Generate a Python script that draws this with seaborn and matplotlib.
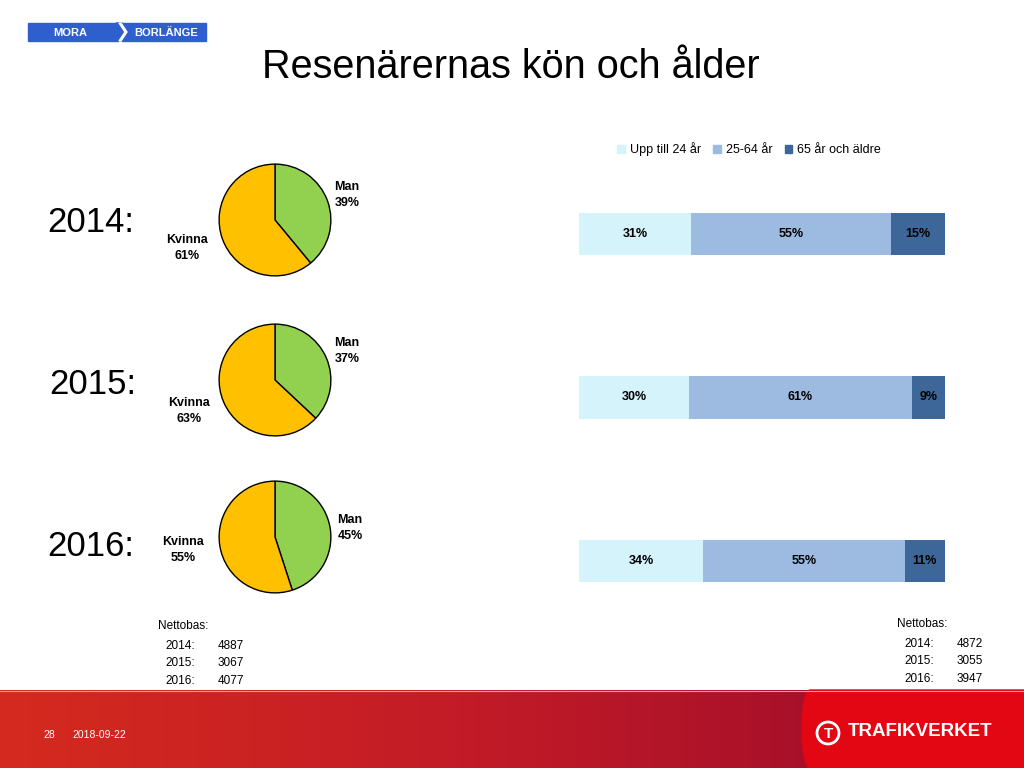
import numpy as np
import pandas as pd
import matplotlib.pyplot as plt
import matplotlib.patches as mpatches
import seaborn as sns

# data
years = ['2014', '2015', '2016']
man_pct = [39, 37, 45]
kvinna_pct = [61, 63, 55]

age_groups = ['Upp till 24 år', '25-64 år', '65 år och äldre']
age_young = [31, 30, 34]
age_mid = [55, 61, 55]
age_old = [15, 9, 11]

netto_pie = [4887, 3067, 4077]
netto_bar = [4872, 3055, 3947]

green = '#92D050'
yellow = '#FFC000'
age_colors = ['#D5F3FB', '#9DBBE0', '#3D6699']

sns.set_theme(style='white')
plt.rcParams['font.family'] = ['Liberation Sans', 'DejaVu Sans']
plt.rcParams['text.color'] = 'black'

W, H = 1024, 768
fig = plt.figure(figsize=(10.24, 7.68), dpi=100)

# background layer in pixel coords
bg = fig.add_axes([0, 0, 1, 1], zorder=-1)
bg.set_xlim(0, W)
bg.set_ylim(H, 0)
bg.axis('off')

# red footer band with gradient
xs = np.linspace(0, 1, 256)
stops = np.array([[0xD4, 0x2A, 0x1E], [0xC4, 0x1C, 0x27], [0xA8, 0x10, 0x2A]]) / 255
grad = np.empty((1, 256, 3))
for c in range(3):
    grad[0, :, c] = np.interp(xs, [0, 0.55, 1], stops[:, c])
bg.imshow(grad, extent=[0, 812, 768, 690], aspect='auto', zorder=0)
t = np.linspace(-np.pi / 2, np.pi / 2, 50)
arc_x = 810 - 8 * np.cos(t)
arc_y = 729 + 39 * np.sin(t)
poly = np.vstack([np.column_stack([arc_x, arc_y]), [[W, 768], [W, 690]]])
bg.add_patch(mpatches.Polygon(poly, closed=True, color='#E30613', zorder=1))
bg.plot([0, W], [690.5, 690.5], color='#E8A0A0', lw=0.8, zorder=2)
bg.text(43, 735, '28', color='white', fontsize=7.5, va='center')
bg.text(72, 735, '2018-09-22', color='white', fontsize=7.5, va='center')
bg.text(848, 731, 'TRAFIKVERKET', color='white', fontsize=13.5, fontweight='bold',
        va='center', ha='left')
bg.add_patch(mpatches.Circle((828, 733), 11, fill=False, ec='white', lw=2, zorder=3))
bg.text(828, 734, 'T', color='white', fontsize=11, fontweight='bold', ha='center', va='center')

# Mora - Borlänge logo
bg.add_patch(mpatches.Rectangle((28, 23), 91, 18, color='#2F5FCF'))
bg.add_patch(mpatches.Polygon([[116, 23], [122, 23], [128, 32], [122, 41], [116, 41]],
                              closed=True, color='#2F5FCF'))
bg.add_patch(mpatches.Rectangle((122, 23), 84, 18, color='#2F5FCF'))
bg.add_patch(mpatches.Polygon([[119, 23], [125, 32], [119, 41], [121, 41], [127, 32], [121, 23]],
                              closed=True, color='white'))
bg.text(70, 32.5, 'MORA', color='white', fontsize=8, fontweight='bold', ha='center', va='center')
bg.text(166, 32.5, 'BORLÄNGE', color='white', fontsize=8, fontweight='bold', ha='center', va='center')

# title
bg.text(511, 67, 'Resenärernas kön och ålder', fontsize=28.5, ha='center', va='center')

# year labels
year_pos = [(47, 222), (49, 385), (47, 547)]
for yr, (px, py) in zip(years, year_pos):
    bg.text(px, py, yr + ':', fontsize=25, ha='left', va='center')

# pies
pie_cy = [220, 380, 537]
man_lab = [(347, 195), (347, 351), (350, 528)]
kv_lab = [(187, 248), (189, 411), (183, 550)]
r = 57
for i in range(3):
    pax = fig.add_axes([(275 - r) / W, (H - pie_cy[i] - r) / H, 2 * r / W, 2 * r / H])
    pax.pie([man_pct[i], kvinna_pct[i]], colors=[green, yellow], startangle=90,
            counterclock=False, wedgeprops=dict(edgecolor='black', linewidth=1))
    pax.set_xlim(-1.02, 1.02)
    pax.set_ylim(-1.02, 1.02)
    bg.text(*man_lab[i], f'Man\n{man_pct[i]}%', fontsize=9, fontweight='bold',
            ha='center', va='center', linespacing=1.4)
    bg.text(*kv_lab[i], f'Kvinna\n{kvinna_pct[i]}%', fontsize=9, fontweight='bold',
            ha='center', va='center', linespacing=1.4)

# stacked bars
shares = np.array([age_young, age_mid, age_old], dtype=float).T
shares = shares / shares.sum(axis=1, keepdims=True) * 100
bax = fig.add_axes([579 / W, (H - 643) / H, 366 / W, 491 / H])
for k in reversed(range(3)):
    cum = shares[:, :k + 1].sum(axis=1)
    df = pd.DataFrame({'year': years, 'val': cum})
    sns.barplot(data=df, x='val', y='year', order=years, orient='h', color=age_colors[k],
                saturation=1, width=0.257, edgecolor='none', ax=bax)
raw = [age_young, age_mid, age_old]
for i in range(3):
    left = 0
    for k in range(3):
        bax.text(left + shares[i, k] / 2, i, f'{raw[k][i]}%', fontsize=9,
                 fontweight='bold', ha='center', va='center')
        left += shares[i, k]
bax.set_xlim(0, 100)
bax.set_ylim(2.5, -0.5)
bax.axis('off')

handles = [mpatches.Patch(color=c) for c in age_colors]
fig.legend(handles, age_groups, loc='center', bbox_to_anchor=(749 / W, 1 - 149 / H),
           ncol=3, frameon=False, fontsize=9, handlelength=0.6, handleheight=0.6,
           handletextpad=0.4, columnspacing=1.0)

# net base tables
def netto(x0, y0, vals):
    bg.text(x0, y0, 'Nettobas:', fontsize=8.5, va='center')
    for j, (yr, v) in enumerate(zip(years, vals)):
        bg.text(x0 + 7, y0 + 20 + 17.5 * j, yr + ':', fontsize=8.5, va='center')
        bg.text(x0 + 60, y0 + 20 + 17.5 * j, str(v), fontsize=8.5, va='center')

netto(158, 626, netto_pie)
netto(897, 624, netto_bar)

fig.savefig('out.png', dpi=100)
